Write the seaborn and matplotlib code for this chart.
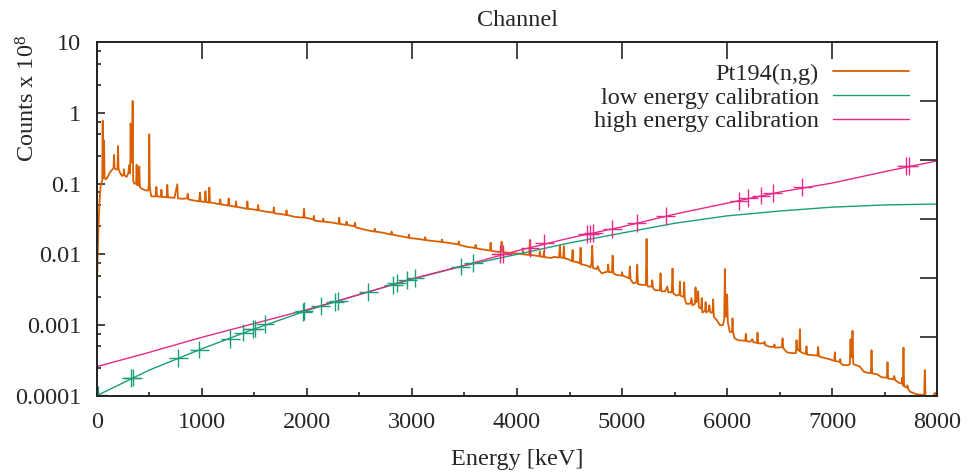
import numpy as np
import pandas as pd
import matplotlib
matplotlib.use("Agg")
import matplotlib.pyplot as plt
import matplotlib.ticker as mticker
import seaborn as sns

# spectrum (energy keV, counts x 1e8)
spectrum_low = [
    (0, 0.002), (8, 0.008), (15, 0.02), (25, 0.05), (38, 0.096), (48, 0.105),
    (53, 0.11), (57, 0.78), (61, 0.13), (66, 0.12), (70, 0.41), (75, 0.12),
    (88, 0.115), (105, 0.125), (127, 0.145), (150, 0.16), (160, 0.165),
    (165, 0.255), (170, 0.165), (185, 0.158), (198, 0.16), (203, 0.34),
    (208, 0.16), (225, 0.14), (241, 0.128), (255, 0.135), (260, 0.16),
    (265, 0.13), (285, 0.125), (300, 0.14), (310, 0.183), (316, 0.14),
    (320, 0.2), (323, 0.71), (328, 0.2), (336, 0.2), (342, 1.48), (347, 0.11),
    (360, 0.10), (375, 0.1), (380, 0.185), (385, 0.095), (398, 0.095),
    (405, 0.175), (411, 0.09), (428, 0.085), (450, 0.082), (470, 0.08),
    (490, 0.08), (496, 0.095), (500, 0.50), (505, 0.095), (512, 0.075),
    (520, 0.066), (560, 0.066), (568, 0.09), (574, 0.066), (610, 0.065),
    (616, 0.082), (622, 0.065), (665, 0.064), (672, 0.096), (678, 0.064),
    (740, 0.063), (767, 0.098), (773, 0.062), (820, 0.061), (860, 0.062),
    (866, 0.072), (872, 0.06), (920, 0.058), (975, 0.056), (983, 0.075),
    (990, 0.056), (1028, 0.055), (1035, 0.078), (1042, 0.055), (1066, 0.054),
    (1072, 0.088), (1078, 0.054), (1120, 0.053), (1170, 0.051), (1176, 0.06),
    (1182, 0.051), (1250, 0.049), (1256, 0.062), (1262, 0.049), (1320, 0.047),
    (1326, 0.056), (1332, 0.047), (1400, 0.045), (1428, 0.044), (1434, 0.056),
    (1440, 0.044), (1500, 0.043), (1530, 0.042), (1536, 0.05), (1542, 0.042),
    (1617, 0.040), (1680, 0.039), (1686, 0.046), (1692, 0.038), (1760, 0.037),
    (1800, 0.036), (1806, 0.042), (1812, 0.036), (1880, 0.034), (1966, 0.033),
    (1973, 0.044), (1980, 0.033),
]
spectrum_mid = [
    (2030, 0.032), (2061, 0.031), (2067, 0.035), (2073, 0.03), (2150, 0.029),
    (2156, 0.032), (2162, 0.029), (2251, 0.028), (2302, 0.027), (2308, 0.033),
    (2314, 0.027), (2370, 0.026), (2378, 0.029), (2386, 0.026), (2450, 0.025),
    (2458, 0.028), (2466, 0.024), (2569, 0.022), (2640, 0.021), (2646, 0.023),
    (2652, 0.021), (2727, 0.0202), (2800, 0.019), (2806, 0.021), (2812, 0.019),
    (2886, 0.0181), (2965, 0.0172), (2971, 0.019), (2977, 0.017),
    (3045, 0.0166), (3120, 0.016), (3126, 0.0175), (3132, 0.0159),
    (3203, 0.0154), (3280, 0.015), (3286, 0.0162), (3292, 0.0149),
    (3362, 0.0144), (3440, 0.0138), (3446, 0.0152), (3452, 0.0136),
    (3520, 0.0128), (3600, 0.0123), (3606, 0.0136), (3612, 0.0122),
    (3647, 0.0119), (3742, 0.0113), (3749, 0.0146), (3756, 0.0112),
    (3805, 0.0109), (3846, 0.0108), (3853, 0.0151), (3860, 0.0108),
    (3900, 0.0106), (3996, 0.0103), (4050, 0.0101), (4056, 0.0112),
    (4062, 0.01), (4116, 0.0098), (4123, 0.0159), (4130, 0.0097),
    (4154, 0.0097), (4212, 0.0094), (4218, 0.011), (4224, 0.0093),
    (4250, 0.0092), (4256, 0.0109), (4262, 0.0091), (4330, 0.0089),
    (4350, 0.0092), (4400, 0.009), (4408, 0.0132), (4415, 0.009),
    (4440, 0.0089), (4446, 0.013), (4452, 0.0088), (4490, 0.0085),
    (4522, 0.008), (4529, 0.0115), (4536, 0.0079), (4570, 0.0078),
    (4598, 0.0074), (4605, 0.0124), (4612, 0.0072), (4640, 0.0071),
    (4680, 0.0068), (4700, 0.0065), (4709, 0.0075), (4716, 0.0132),
    (4723, 0.0064), (4760, 0.0062), (4770, 0.0068), (4780, 0.006),
    (4807, 0.0054), (4862, 0.0057), (4868, 0.0072), (4874, 0.0056),
    (4903, 0.0056), (4910, 0.0096), (4917, 0.0054), (4945, 0.0051),
    (4995, 0.0050), (5000, 0.0056), (5006, 0.005), (5067, 0.0046),
    (5074, 0.0067), (5081, 0.0044), (5106, 0.0039), (5137, 0.0040),
    (5144, 0.0071), (5151, 0.0038), (5185, 0.0037), (5226, 0.0037),
    (5233, 0.0165), (5240, 0.0036), (5250, 0.0035), (5281, 0.0035),
    (5287, 0.0043), (5293, 0.0034), (5312, 0.0031), (5359, 0.0031),
    (5366, 0.0054), (5373, 0.003), (5410, 0.003), (5430, 0.0035),
    (5440, 0.0029), (5473, 0.0029), (5480, 0.0063), (5487, 0.0028),
    (5518, 0.0026), (5545, 0.0027), (5550, 0.0041), (5556, 0.0026),
    (5585, 0.0025), (5591, 0.004), (5597, 0.0023), (5613, 0.002),
    (5650, 0.002), (5660, 0.0024), (5670, 0.0019), (5693, 0.002),
    (5699, 0.0034), (5705, 0.0021), (5718, 0.0022), (5724, 0.003),
    (5730, 0.0018), (5752, 0.0017), (5758, 0.0024), (5764, 0.0015),
    (5789, 0.0016), (5795, 0.0021), (5801, 0.0015), (5825, 0.0016),
    (5830, 0.0019), (5840, 0.0015), (5861, 0.0015), (5867, 0.0023),
    (5873, 0.0013), (5900, 0.00118), (5930, 0.001),
]
spectrum_high = [
    (5960, 0.001), (5972, 0.0012), (5978, 0.0062), (5985, 0.0015),
    (5994, 0.0013), (6000, 0.0027), (6006, 0.0011), (6025, 0.0008),
    (6046, 0.0008), (6051, 0.00124), (6056, 0.0008), (6070, 0.00065),
    (6105, 0.00061), (6150, 0.0006), (6172, 0.0006), (6178, 0.00075),
    (6184, 0.00059), (6220, 0.00058), (6240, 0.00063), (6250, 0.00057),
    (6283, 0.00056), (6289, 0.00078), (6295, 0.00055), (6320, 0.00055),
    (6350, 0.00055), (6356, 0.00058), (6362, 0.00052), (6410, 0.00049),
    (6445, 0.00049), (6450, 0.00053), (6455, 0.00048), (6500, 0.00048),
    (6520, 0.00049), (6527, 0.00065), (6534, 0.00047), (6570, 0.00041),
    (6620, 0.0004), (6654, 0.0004), (6660, 0.00061), (6666, 0.00045),
    (6686, 0.00043), (6692, 0.00087), (6698, 0.00042), (6720, 0.0004),
    (6749, 0.00039), (6755, 0.0005), (6761, 0.00038), (6790, 0.000377),
    (6859, 0.00037), (6866, 0.00049), (6873, 0.00036), (6930, 0.00034),
    (6980, 0.000327), (7019, 0.00031), (7025, 0.00041), (7031, 0.00031),
    (7070, 0.0003), (7076, 0.00033), (7082, 0.00029), (7100, 0.000272),
    (7150, 0.00027), (7168, 0.00028), (7174, 0.00063), (7180, 0.00035),
    (7187, 0.00035), (7193, 0.00083), (7200, 0.00028), (7220, 0.000272),
    (7260, 0.00026), (7300, 0.000219), (7340, 0.00021), (7368, 0.00021),
    (7374, 0.00044), (7380, 0.000207), (7430, 0.0002), (7470, 0.000182),
    (7520, 0.00018), (7526, 0.000297), (7532, 0.000175), (7580, 0.00017),
    (7590, 0.00019), (7600, 0.000165), (7640, 0.00015), (7660, 0.00015),
    (7666, 0.00018), (7672, 0.00014), (7678, 0.00048), (7684, 0.000135),
    (7710, 0.00013), (7716, 0.00014), (7722, 0.000125), (7740, 0.000114),
    (7800, 0.000105), (7875, 0.000102), (7881, 0.00023), (7887, 0.0001),
    (7940, 0.000098), (7960, 0.0001), (7980, 0.00011), (8000, 0.000095),
]

# calibration points
low_cal_energy = [10, 326, 345, 777, 976, 1269, 1395, 1485, 1506, 1602, 1960,
                  1973, 2132, 2268, 2299, 2585, 2823, 2855, 2956, 3029, 3463, 3583]
low_cal_value = [1.02e-4, 1.76e-4, 1.8e-4, 3.4e-4, 4.5e-4, 6.3e-4, 7.8e-4,
                 8.7e-4, 8.9e-4, 1.03e-3, 1.52e-3, 1.56e-3, 1.86e-3, 2.12e-3,
                 2.17e-3, 2.96e-3, 3.68e-3, 3.89e-3, 4.33e-3, 4.57e-3, 6.7e-3, 7.6e-3]
high_cal_energy = [3838, 3864, 4124, 4260, 4669, 4695, 4726, 4907, 5139, 5415,
                   6113, 6201, 6322, 6433, 6715, 7702, 7730]
high_cal_value = [0.0101, 0.0101, 0.0122, 0.0143, 0.0194, 0.0196, 0.0198,
                  0.0228, 0.0276, 0.0348, 0.0573, 0.062, 0.0676, 0.0741,
                  0.0887, 0.178, 0.178]

# fitted calibration curves
fit_energy = [0, 500, 1000, 1500, 2000, 2500, 3000, 3500, 4000, 4500, 5000,
              5500, 6000, 6500, 7000, 7500, 8000]
low_fit = [1.0e-4, 2.3e-4, 4.6e-4, 8.8e-4, 1.6e-3, 2.7e-3, 4.45e-3, 6.9e-3,
           1.0e-2, 1.45e-2, 2.0e-2, 2.75e-2, 3.5e-2, 4.1e-2, 4.65e-2, 5.0e-2, 5.15e-2]
high_fit = [2.57e-4, 4.1e-4, 6.7e-4, 1.05e-3, 1.65e-3, 2.7e-3, 4.5e-3, 7.0e-3,
            1.12e-2, 1.7e-2, 2.45e-2, 3.7e-2, 5.3e-2, 7.6e-2, 0.102, 0.148, 0.21]

c_spec = "#d95f02"
c_low = "#1b9e77"
c_high = "#e7298a"

sns.set_style("ticks")
plt.rcParams["font.family"] = ["Liberation Serif", "DejaVu Serif"]
plt.rcParams["mathtext.fontset"] = "custom"
plt.rcParams["mathtext.rm"] = "Liberation Serif"
plt.rcParams["mathtext.default"] = "regular"
fs = 17.5

spec_df = pd.DataFrame(spectrum_low + spectrum_mid + spectrum_high,
                       columns=["Energy", "Counts"])
fit_df = pd.DataFrame({"Energy": fit_energy, "low": low_fit, "high": high_fit})

fig = plt.figure(figsize=(9.69, 4.72), dpi=100)
ax = fig.add_axes([0.0998, 0.1617, 0.8675, 0.7487])

sns.lineplot(data=spec_df, x="Energy", y="Counts", color=c_spec, lw=1.3,
             estimator=None, sort=False, ax=ax, label="Pt194(n,g)")
sns.lineplot(data=fit_df, x="Energy", y="low", color=c_low, lw=1.0,
             ax=ax, label="low energy calibration")
sns.lineplot(data=fit_df, x="Energy", y="high", color=c_high, lw=1.0,
             ax=ax, label="high energy calibration")

lv = np.array(low_cal_value)
ax.errorbar(low_cal_energy, lv, xerr=90, yerr=[lv * 0.25, lv * 0.34],
            fmt="none", ecolor=c_low, elinewidth=1.0, capsize=0)
hv = np.array(high_cal_value)
ax.errorbar(high_cal_energy, hv, xerr=90, yerr=[hv * 0.25, hv * 0.34],
            fmt="none", ecolor=c_high, elinewidth=1.0, capsize=0)

ax.set_yscale("log")
ax.set_xlim(0, 8000)
ax.set_ylim(1e-4, 10)
ax.set_xticks(range(0, 8001, 1000))
ax.xaxis.set_minor_locator(mticker.MultipleLocator(500))
ax.yaxis.set_major_locator(mticker.LogLocator(base=10, numticks=10))
ax.yaxis.set_minor_locator(mticker.LogLocator(base=10, subs=[2.5, 5.0, 7.5], numticks=10))
ax.yaxis.set_major_formatter(mticker.FuncFormatter(lambda v, p: "%g" % v))
ax.yaxis.set_minor_formatter(mticker.NullFormatter())
ax.tick_params(which="major", direction="in", length=6, width=1.2,
               labelsize=fs, top=False, right=False)
ax.tick_params(which="minor", direction="in", length=3, width=1.2,
               top=False, right=False)
ax.tick_params(axis="y", which="major", pad=11)
ax.tick_params(axis="x", which="major", pad=12)
for s in ax.spines.values():
    s.set_linewidth(1.3)

ax.set_xlabel("Energy [keV]", fontsize=fs, labelpad=11)
ax.set_ylabel("Counts x 10$^8$", fontsize=fs)
ax.yaxis.set_label_coords(-0.068, 0.84)
handles, labels = ax.get_legend_handles_labels()
if ax.get_legend() is not None:
    ax.get_legend().remove()

# top channel axis and right axis: ticks only
ax_top = ax.twiny()
ax_top.set_xlim(0, 8000)
ax_top.set_xticks(range(1000, 8000, 1000))
ax_top.tick_params(direction="in", length=12, width=1.2, labeltop=False)
ax_top.set_xlabel("Channel", fontsize=fs, labelpad=12)
ax_right = ax.twinx()
ax_right.set_ylim(0, 6)
ax_right.set_yticks(range(1, 6))
ax_right.tick_params(direction="in", length=12, width=1.2, labelright=False)
for a in (ax_top, ax_right):
    for s in a.spines.values():
        s.set_linewidth(1.3)

# markerfirst=False right-aligns the rows: label then line sample
ax_right.legend(handles[:3], labels[:3], loc="upper right",
                bbox_to_anchor=(0.966, 0.942), frameon=False, fontsize=fs,
                markerfirst=False, handlelength=3.1, handletextpad=0.6,
                labelspacing=0.07, borderpad=0, borderaxespad=0)

fig.savefig("out.png", dpi=100)
